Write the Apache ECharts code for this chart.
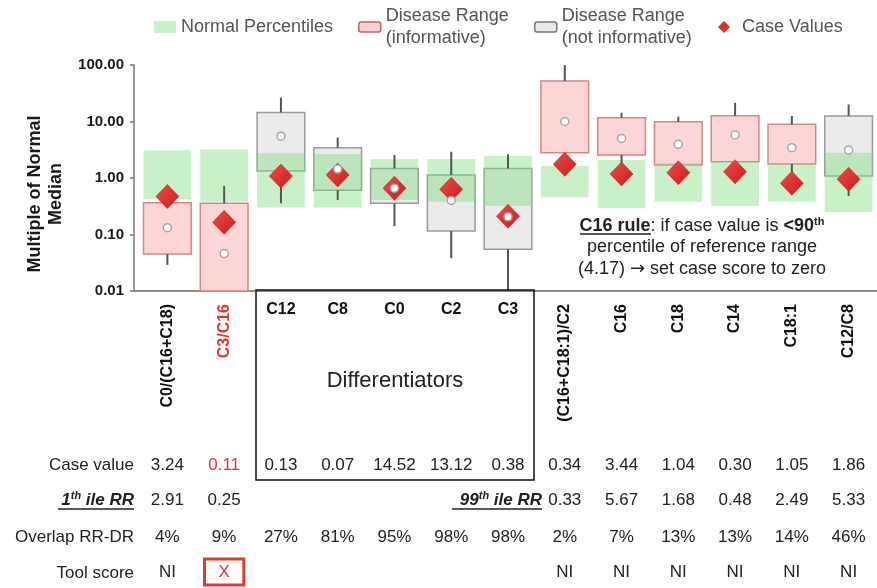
<!DOCTYPE html>
<html><head><meta charset="utf-8">
<script src="https://cdn.jsdelivr.net/npm/echarts/dist/echarts.min.js"></script>
<style>html,body{margin:0;padding:0;background:#fff}#c{width:877px;height:588px}</style>
</head><body><div id="c"></div>
<script>
// ---------- data ----------
const categories = ['C0/(C16+C18)','C3/C16','C12','C8','C0','C2','C3','(C16+C18:1)/C2','C16','C18','C14','C18:1','C12/C8'];
const isDifferentiator = [false,false,true,true,true,true,true,false,false,false,false,false,false];
const isInformative   = [true,true,false,false,false,false,false,true,true,true,true,true,false];
const highlightIndex = 1; // C3/C16 shown in red
// normal percentile band (multiple of normal median)
const normalLow  = [0.42,0.38,0.30,0.30,0.41,0.38,0.32,0.455,0.29,0.38,0.32,0.38,0.25];
const normalHigh = [3.1,3.2,2.73,2.66,2.17,2.17,2.48,1.63,2.08,1.85,1.94,1.77,2.8];
// disease range box + whiskers
const boxLow      = [0.045,0.01,1.33,0.61,0.356,0.115,0.055,2.8,2.55,1.7,1.94,1.77,1.08];
const boxHigh     = [0.365,0.356,14.5,3.44,1.48,1.13,1.48,52,11.7,9.9,12.6,8.9,12.5];
const whiskerLow  = [0.029,null,0.356,0.41,0.141,0.038,0.01,null,1.5,null,null,1.0,0.48];
const whiskerHigh = [null,0.72,26.4,5.17,2.55,2.92,2.62,100,14.3,12.2,21.5,12.5,20];
const diseaseMedian = [0.132,0.046,5.5,1.44,0.66,0.40,0.206,10,5.0,3.95,5.77,3.44,3.13];
const caseMoM = [0.47,0.164,1.08,1.13,0.66,0.63,0.21,1.75,1.18,1.24,1.29,0.805,0.95];
// table rows
const caseValueText = ['3.24','0.11','0.13','0.07','14.52','13.12','0.38','0.34','3.44','1.04','0.30','1.05','1.86'];
const percentileRR  = ['2.91','0.25','','','','','','0.33','5.67','1.68','0.48','2.49','5.33'];
const overlapRRDR   = ['4%','9%','27%','81%','95%','98%','98%','2%','7%','13%','13%','14%','46%'];
const toolScore     = ['NI','X','','','','','','NI','NI','NI','NI','NI','NI'];

// ---------- chart ----------
const FONT = '"Liberation Sans", Arial, sans-serif';
const RED = '#e8322f';
const chart = echarts.init(document.getElementById('c'), null, {renderer:'canvas'});

function rectRenderer(fill, stroke, lw){
  return function(params, api){
    const i = api.value(0);
    const p1 = api.coord([i, api.value(1)]);
    const p2 = api.coord([i, api.value(2)]);
    const w = api.size([1,1])[0]*0.84;
    return {type:'rect', shape:{x:p1[0]-w/2, y:Math.min(p1[1],p2[1]), width:w, height:Math.abs(p1[1]-p2[1])},
      style:{fill:fill, stroke:stroke, lineWidth:lw}};
  };
}
function lineRenderer(params, api){
  const i = api.value(0);
  const p1 = api.coord([i, api.value(1)]);
  const p2 = api.coord([i, api.value(2)]);
  return {type:'line', shape:{x1:p1[0], y1:p1[1], x2:p2[0], y2:p2[1]}, style:{stroke:'#555', lineWidth:2}};
}
const boxData = flag => categories.map((c,i)=> isInformative[i]===flag ? [i, boxLow[i], boxHigh[i]] : null).filter(d=>d);
const whiskers = [];
categories.forEach((c,i)=>{
  if (whiskerHigh[i] != null) whiskers.push([i, boxHigh[i], whiskerHigh[i]]);
  if (whiskerLow[i] != null) whiskers.push([i, whiskerLow[i], boxLow[i]]);
});

function rowAxis(texts, margin, fmt, rich){
  return {type:'category', data:categories, position:'bottom', gridIndex:0,
    axisLine:{show:false}, axisTick:{show:false}, splitLine:{show:false},
    axisLabel:{interval:0, margin:margin, verticalAlign:'middle', fontSize:17, color:'#222', fontFamily:FONT,
      formatter: fmt || ((v,i)=>texts[i]), rich: rich || {}}};
}

const legendBase = {padding:0, selectedMode:false, itemGap:0, textStyle:{fontSize:18, lineHeight:22, color:'#555', fontFamily:FONT}};

const option = {
  animation:false,
  backgroundColor:'#fff',
  legend:[
    Object.assign({}, legendBase, {left:154, top:16, itemWidth:22, itemHeight:12,
      data:[{name:'Normal Percentiles', icon:'rect', itemStyle:{color:'#c9f1c9', borderWidth:0}}]}),
    Object.assign({}, legendBase, {left:358, top:5, itemWidth:22, itemHeight:10,
      data:[{name:'Disease Range\n(informative)', icon:'roundRect', itemStyle:{color:'#fbd0d0', borderColor:'#b56a6a', borderWidth:1.5}}]}),
    Object.assign({}, legendBase, {left:534, top:5, itemWidth:22, itemHeight:10,
      data:[{name:'Disease Range\n(not informative)', icon:'roundRect', itemStyle:{color:'#e8e8e8', borderColor:'#777', borderWidth:1.5}}]}),
    Object.assign({}, legendBase, {left:718, top:16, itemWidth:26, itemHeight:12,
      data:[{name:'Case Values', icon:'path://M6,0L12,6L6,12L0,6Z', itemStyle:{color:'#e0302c', borderWidth:0}}]})
  ],
  grid:{left:139, right:-5.5, top:65, bottom:297, containLabel:false},
  xAxis:[
    {type:'category', data:categories, position:'bottom', boundaryGap:true,
      axisLine:{show:true, lineStyle:{color:'#8c8c8c', width:2}}, axisTick:{show:false}, splitLine:{show:false},
      axisLabel:{interval:0, rotate:90, margin:13, fontSize:16, fontWeight:'bold', color:'#111', fontFamily:FONT,
        formatter:(v,i)=> isDifferentiator[i] ? '' : (i===highlightIndex ? '{r|'+v+'}' : v),
        rich:{r:{color:RED, fontSize:16, fontWeight:'bold', fontFamily:FONT}}}},
    {type:'category', data:categories, position:'bottom', axisLine:{show:false}, axisTick:{show:false},
      axisLabel:{interval:0, margin:11, fontSize:16, fontWeight:'bold', color:'#111', fontFamily:FONT,
        formatter:(v,i)=> isDifferentiator[i] ? v : ''}},
    rowAxis(caseValueText, 174, (v,i)=> i===highlightIndex ? '{r|'+caseValueText[i]+'}' : caseValueText[i],
      {r:{color:RED, fontSize:17, fontFamily:FONT}}),
    rowAxis(percentileRR, 209),
    rowAxis(overlapRRDR, 246),
    rowAxis(toolScore, 281, (v,i)=> toolScore[i]==='X' ? '{x|X}' : toolScore[i],
      {x:{color:RED, fontSize:17, fontFamily:FONT, borderColor:'#e33a2c', borderWidth:3, padding:[5,14,4,14]}})
  ],
  yAxis:{type:'log', logBase:10, min:0.01, max:100, offset:5,
    axisLine:{show:true, lineStyle:{color:'#777', width:1.5}},
    axisTick:{show:true, length:4, lineStyle:{color:'#777', width:1.5}},
    splitLine:{show:false},
    axisLabel:{margin:10, fontSize:15, fontWeight:'bold', color:'#1a1a1a', fontFamily:FONT,
      formatter:v=>Number(v).toFixed(2)}},
  series:[
    {name:'Disease Range\n(informative)', type:'custom', z:2, renderItem:rectRenderer('#fcd6d6','#d98585',1.5),
      encode:{x:0, y:[1,2]}, data:boxData(true)},
    {name:'Disease Range\n(not informative)', type:'custom', z:2, renderItem:rectRenderer('#ebebeb','#9a9a9a',1.5),
      encode:{x:0, y:[1,2]}, data:boxData(false)},
    {name:'Normal Percentiles', type:'custom', z:3, renderItem:rectRenderer('rgba(125,222,125,0.42)','none',0),
      encode:{x:0, y:[1,2]}, data:categories.map((c,i)=>[i, normalLow[i], normalHigh[i]])},
    {name:'whiskers', type:'custom', z:4, renderItem:lineRenderer, encode:{x:0, y:[1,2]}, data:whiskers},
    {name:'Case Values', type:'scatter', z:5, symbol:'diamond', symbolSize:[23,24],
      itemStyle:{color:new echarts.graphic.LinearGradient(0,0,1,1,[{offset:0,color:'#f24b46'},{offset:1,color:'#c71d1d'}]),
        borderColor:'#c42020', borderWidth:0.6, opacity:1},
      data:categories.map((c,i)=>[i, caseMoM[i]])},
    {name:'Median', type:'scatter', z:6, symbol:'circle', symbolSize:8,
      itemStyle:{color:'#fff', borderColor:'#a5a5a5', borderWidth:1.5, opacity:1},
      data:categories.map((c,i)=>[i, diseaseMedian[i]])}
  ],
  graphic:{elements:[
    // y-axis title
    {type:'text', x:46, y:194, rotation:Math.PI/2,
      style:{text:'Multiple of Normal\nMedian', fontSize:18, fontWeight:'bold', fontFamily:FONT, fill:'#1a1a1a',
        lineHeight:21, align:'center', verticalAlign:'middle', textAlign:'center', textVerticalAlign:'middle'}},
    // axis joint
    {type:'line', shape:{x1:134, y1:291, x2:140, y2:291}, style:{stroke:'#8c8c8c', lineWidth:2}},
    // row labels
    {type:'text', x:134, y:465, style:{text:'Case value', fontSize:17, fontFamily:FONT, fill:'#222', align:'right', verticalAlign:'middle', textAlign:'right', textVerticalAlign:'middle'}},
    {type:'text', x:134, y:500, style:{text:'{b|1}{s|th}{b| ile RR}', fontFamily:FONT, fill:'#222', align:'right', verticalAlign:'middle', textAlign:'right', textVerticalAlign:'middle',
      rich:{b:{fontSize:17, fontWeight:'bold', fontStyle:'italic', fontFamily:FONT, fill:'#222', color:'#222'},
            s:{fontSize:11, fontWeight:'bold', fontStyle:'italic', fontFamily:FONT, fill:'#222', color:'#222', padding:[0,0,9,0]}}}},
    {type:'line', shape:{x1:58, y1:509, x2:134, y2:509}, style:{stroke:'#222', lineWidth:1.5}},
    {type:'text', x:542, y:500, style:{text:'{b|99}{s|th}{b| ile RR}', fontFamily:FONT, fill:'#222', align:'right', verticalAlign:'middle', textAlign:'right', textVerticalAlign:'middle',
      rich:{b:{fontSize:17, fontWeight:'bold', fontStyle:'italic', fontFamily:FONT, fill:'#222', color:'#222'},
            s:{fontSize:11, fontWeight:'bold', fontStyle:'italic', fontFamily:FONT, fill:'#222', color:'#222', padding:[0,0,9,0]}}}},
    {type:'line', shape:{x1:452, y1:509, x2:542, y2:509}, style:{stroke:'#222', lineWidth:1.5}},
    {type:'text', x:134, y:537, style:{text:'Overlap RR-DR', fontSize:17, fontFamily:FONT, fill:'#222', align:'right', verticalAlign:'middle', textAlign:'right', textVerticalAlign:'middle'}},
    {type:'text', x:134, y:573, style:{text:'Tool score', fontSize:17, fontFamily:FONT, fill:'#222', align:'right', verticalAlign:'middle', textAlign:'right', textVerticalAlign:'middle'}},
    // differentiators box
    {type:'rect', shape:{x:256, y:290, width:278, height:190}, style:{fill:'none', stroke:'#111', lineWidth:1.5}, z:10},
    {type:'text', x:395, y:381, style:{text:'Differentiators', fontSize:22, fontFamily:FONT, fill:'#222', align:'center', verticalAlign:'middle', textAlign:'center', textVerticalAlign:'middle'}},
    // C16 rule note
    {type:'text', x:702, y:226, style:{text:'{b|C16 rule}{n|: if case value is }{b|<90}{s|th}', fontFamily:FONT, fill:'#222', align:'center', verticalAlign:'middle', textAlign:'center', textVerticalAlign:'middle',
      rich:{b:{fontSize:18, fontWeight:'bold', fontFamily:FONT, fill:'#222', color:'#222'},
            n:{fontSize:18, fontFamily:FONT, fill:'#222', color:'#222'},
            s:{fontSize:11, fontWeight:'bold', fontFamily:FONT, fill:'#222', color:'#222', padding:[0,0,9,0]}}}},
    {type:'line', shape:{x1:580, y1:234, x2:651, y2:234}, style:{stroke:'#222', lineWidth:1.5}},
    {type:'text', x:702, y:247, style:{text:'percentile of reference range', fontSize:18, fontFamily:FONT, fill:'#222', align:'center', verticalAlign:'middle', textAlign:'center', textVerticalAlign:'middle'}},
    {type:'text', x:702, y:269, style:{text:'{n|(4.17) }{a|\u2192}{n| set case score to zero}', fontFamily:FONT, fill:'#222', align:'center', verticalAlign:'middle', textAlign:'center', textVerticalAlign:'middle',
      rich:{n:{fontSize:18, fontFamily:FONT, fill:'#222', color:'#222'},
            a:{fontSize:18, fontFamily:'"DejaVu Sans"', fill:'#222', color:'#222'}}}}
  ]}
};
chart.setOption(option);
</script>
</body></html>
